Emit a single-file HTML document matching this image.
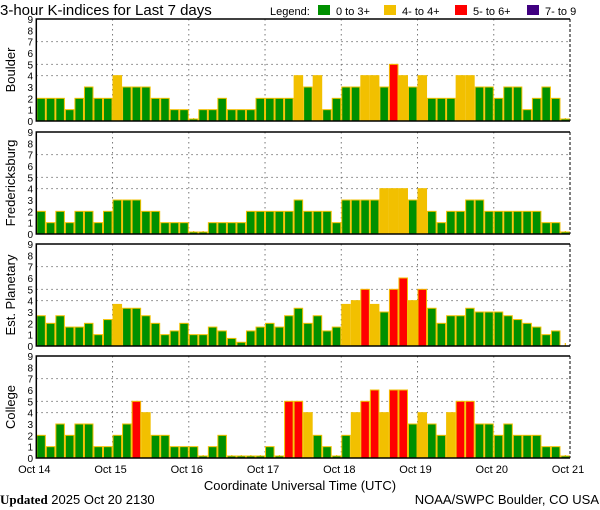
<!DOCTYPE html>
<html><head><meta charset="utf-8">
<style>
body{margin:0;background:#fff;}
svg{display:block;font-family:"Liberation Sans",sans-serif;}
</style></head>
<body>
<svg id="chart" width="600" height="510" viewBox="0 0 600 510">
<text x="0" y="15" font-size="15">3-hour K-indices for Last 7 days</text>
<g font-size="11">
<text x="270" y="15">Legend:</text>
<rect x="318" y="5" width="12" height="10" fill="#009000"/>
<text x="336" y="15">0 to 3+</text>
<rect x="384" y="5" width="12" height="10" fill="#f2c000"/>
<text x="402" y="15">4- to 4+</text>
<rect x="455" y="5" width="12" height="10" fill="#ff0000"/>
<text x="473" y="15">5- to 6+</text>
<rect x="527" y="5" width="12" height="10" fill="#400080"/>
<text x="545" y="15">7- to 9</text>
</g>
<g id="panels"></g>
<text x="300" y="490" font-size="13" text-anchor="middle">Coordinate Universal Time (UTC)</text>
<text x="0" y="504" font-size="13"><tspan font-family="Liberation Serif,serif" font-weight="bold">Updated</tspan> 2025 Oct 20 2130</text>
<text x="599" y="504" font-size="13" text-anchor="end">NOAA/SWPC Boulder, CO USA</text>
</svg>
<script>
const dayLabels = ["Oct 14","Oct 15","Oct 16","Oct 17","Oct 18","Oct 19","Oct 20","Oct 21"];
const yTicks = [0,1,2,3,4,5,6,7,8,9];
const stations = ["Boulder","Fredericksburg","Est. Planetary","College"];
const boulder = [2,2,2,1,2,3,2,2, 4,3,3,3,2,2,1,1, 0,1,1,2,1,1,1,2, 2,2,2,4,3,4,1,2, 3,3,4,4,3,5,4,3, 4,2,2,2,4,4,3,3, 2,3,3,1,2,3,2,0];
const fredericksburg = [2,1,2,1,2,2,1,2, 3,3,3,2,2,1,1,1, 0,0,1,1,1,1,2,2, 2,2,2,3,2,2,2,1, 3,3,3,3,4,4,4,3, 4,2,1,2,2,3,3,2, 2,2,2,2,2,1,1,0];
const planetary = [2.67,2,2.67,1.67,1.67,2,1,2.33, 3.67,3.33,3.33,2.67,2,1,1.33,2, 1,1,1.67,1.33,0.67,0.33,1.33,1.67, 2,1.67,2.67,3.33,2,2.67,1.33,1.67, 3.67,4,5,3.67,3,5,6,4, 5,3.33,2,2.67,2.67,3.33,3,3, 3,2.67,2.33,2,1.67,1,1.33,null];
const college = [2,1,3,2,3,3,1,1, 2,3,5,4,2,2,1,1, 1,0,1,2,0,0,0,0, 1,0,5,5,4,2,1,0, 2,4,5,6,4,6,6,3, 4,3,2,4,5,5,3,3, 2,3,2,2,2,1,1,0];
const series = [boulder, fredericksburg, planetary, college];
const panelTops = [19,132,244,356];
const NS="http://www.w3.org/2000/svg";
const X0=36.3, X1=570, PH=102, nBars=56;
const bw=(X1-X0)/nBars;
const xDay=d=>X0+d*(X1-X0)/7;
const xBar=i=>X0+i*bw;
const yVal=(top,v)=>top+PH-v*PH/9;
function color(v){return v>=6.6?"#400080":v>=4.6?"#ff0000":v>=3.6?"#f2c000":"#009000";}
function mk(tag,attrs,parent){const e=document.createElementNS(NS,tag);for(const k in attrs)e.setAttribute(k,attrs[k]);parent.appendChild(e);return e;}
const root=document.getElementById("panels");
series.forEach((data,p)=>{
  const top=panelTops[p], bot=top+PH;
  const g=mk("g",{},root);
  
  
  [4,5,7].forEach(v=>{const l=mk("line",{x1:X0,x2:X1,y1:yVal(top,v),y2:yVal(top,v),stroke:"#777","stroke-dasharray":"1.5,3.5"},g);
    
    });
  for(let d=1;d<7;d++){const l=mk("line",{x1:xDay(d),x2:xDay(d),y1:top,y2:bot,stroke:"#777","stroke-dasharray":"1.5,3.5"},g);
    
    }
  data.forEach((v,i)=>{
    const x=xBar(i);
    const t=mk("rect",{x:x+bw/2-0.5,y:bot-3,width:1.2,height:3,fill:"#f2c000"},g);
    
    
    if(v===null)return;
    const h=v===0?2:v*PH/9;
    const r=mk("rect",{x:x+0.5,y:bot-h,width:bw-1,height:h,fill:color(v),stroke:"#f2c000","stroke-width":1},g);
    
    
  });
  const fr=mk("path",{d:`M${X1},${top} H${X0} V${bot} H${X1}`,fill:"none",stroke:"#000","stroke-width":1.5},g);
  
  
  const rl=mk("line",{x1:X1,x2:X1,y1:top,y2:bot,stroke:"#000","stroke-dasharray":"3,2"},g);
  
  
  yTicks.forEach(v=>{const t=mk("text",{x:33,y:yVal(top,v)+4,"font-size":10,"text-anchor":"end"},g);t.textContent=v;
    
    });
  const lab=mk("text",{x:0,y:0,"font-size":13,"text-anchor":"middle",transform:`translate(15,${top+PH/2}) rotate(-90)`},g);
  lab.textContent=stations[p];
  
  
});
dayLabels.forEach((s,d)=>{const t=mk("text",{x:xDay(d)-2,y:473,"font-size":11,"text-anchor":"middle"},root);t.textContent=s;
  
  });
</script>
</body></html>
